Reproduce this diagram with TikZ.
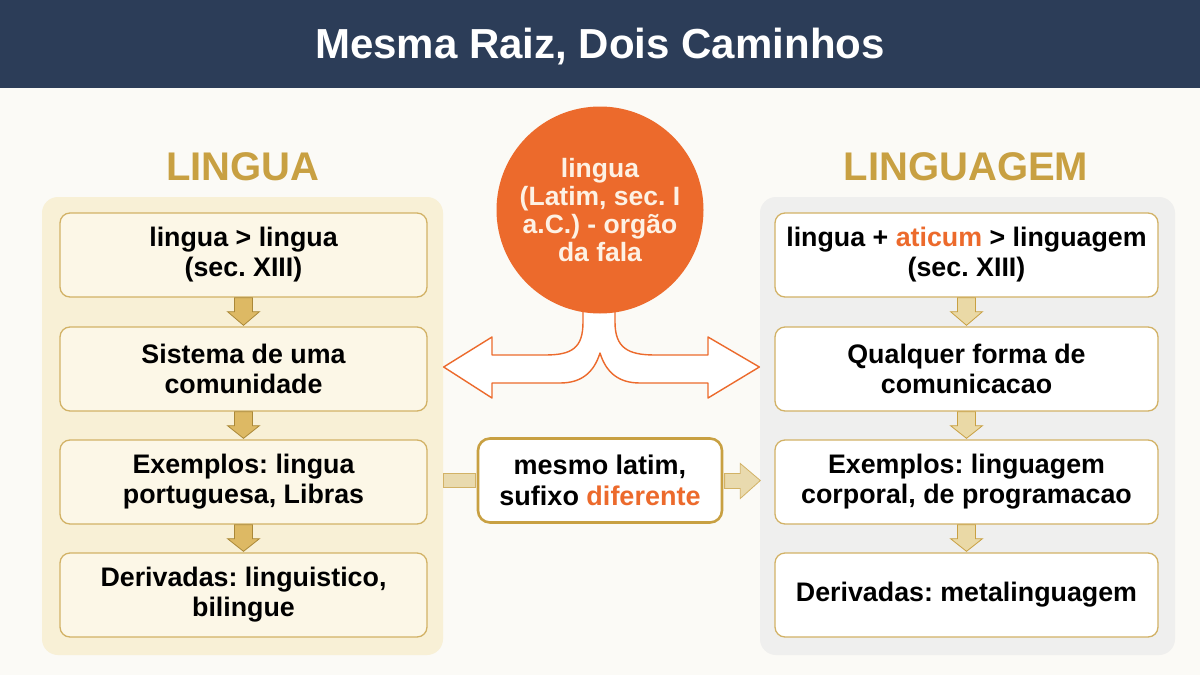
\documentclass[tikz,border=0pt]{standalone}
\usepackage{fontspec}
\setmainfont{Liberation Sans}
\usetikzlibrary{calc}
\frenchspacing
\definecolor{navy}{HTML}{2C3D58}
\definecolor{bgc}{HTML}{FBFAF6}
\definecolor{gold}{HTML}{C8A042}
\definecolor{goldline}{HTML}{D2B266}
\definecolor{lpanel}{HTML}{F8F0D6}
\definecolor{lbox}{HTML}{FCF7E7}
\definecolor{rpanel}{HTML}{EFEFEE}
\definecolor{orng}{HTML}{EC6A2C}
\definecolor{tan}{HTML}{E9DAAE}
\definecolor{darrfill}{HTML}{DDB964}
\definecolor{rarrfill}{HTML}{EAD9A6}
\definecolor{circtxt}{HTML}{FDF1E4}
\tikzset{
  boxbase/.style={draw=goldline, line width=1.3pt, rounded corners=10pt,
    minimum width=367pt, minimum height=84pt, align=center,
    font=\fontsize{26.8}{30}\selectfont\bfseries, text=black, inner sep=0pt},
  lstepbox/.style={boxbase, fill=lbox},
  rstepbox/.style={boxbase, fill=white, minimum width=383pt},
  heading/.style={font=\fontsize{40}{44}\selectfont\bfseries, text=gold},
  darrow/.style={draw=gold!85!black, line width=0.8pt, fill=darrfill},
  rdarrow/.style={draw=gold, line width=0.8pt, fill=rarrfill},
}
\newcommand\darr[3]{%
  \draw[#3] ($(#1.south)+(-9,0)$) -- ($(#1.south)+(-9,14)$) -- ($(#1.south)+(-16,14)$)
    -- ($(#2.north)+(0,-1)$) -- ($(#1.south)+(16,14)$) -- ($(#1.south)+(9,14)$)
    -- ($(#1.south)+(9,0)$) -- cycle;}
\begin{document}
\begin{tikzpicture}[x=1pt,y=-1pt]
\useasboundingbox (0,0) rectangle (1200,675);
\fill[bgc] (0,0) rectangle (1200,675);
% title bar
\fill[navy] (0,0) rectangle (1200,88);
\node[text=white, font=\fontsize{42}{46}\selectfont\bfseries] (title) at (600,47) {Mesma Raiz, Dois Caminhos};
% headings
\node[heading] (hl) at (243,167) {LINGUA};
\node[heading] (hr) at (966,167) {LINGUAGEM};
% panels
\fill[lpanel, rounded corners=16pt] (42,197) rectangle (443,655);
\coordinate (lpe) at (443,480);
\fill[rpanel, rounded corners=16pt] (760,197) rectangle (1175,655);
% left boxes
\node[lstepbox] (L1) at (243.5,255) {lingua > lingua\\(sec. XIII)};
\node[lstepbox] (L2) at (243.5,369) {Sistema de uma\\comunidade};
\node[lstepbox] (L3) at (243.5,482) {Exemplos: lingua\\portuguesa, Libras};
\node[lstepbox] (L4) at (243.5,595) {Derivadas: linguistico,\\bilingue};
% right boxes
\node[rstepbox] (R1) at (966.5,255) {lingua + \textcolor{orng}{aticum} > linguagem\\(sec. XIII)};
\node[rstepbox] (R2) at (966.5,369) {Qualquer forma de\\comunicacao};
\node[rstepbox] (R3) at (966.5,482) {Exemplos: linguagem\\corporal, de programacao};
\node[rstepbox] (R4) at (966.5,595) {Derivadas: metalinguagem};
% down arrows
\darr{L1}{L2}{darrow}
\darr{L2}{L3}{darrow}
\darr{L3}{L4}{darrow}
\darr{R1}{R2}{rdarrow}
\darr{R2}{R3}{rdarrow}
\darr{R3}{R4}{rdarrow}
% middle box
\node[draw=gold, line width=2.6pt, rounded corners=12pt, fill=white,
  minimum width=244pt, minimum height=84pt, align=center,
  font=\fontsize{27}{31}\selectfont\bfseries] (M) at (600,480.5)
  {mesmo latim,\\sufixo \textcolor{orng}{diferente}};
\draw[draw=goldline, line width=0.8pt, fill=tan] ($(lpe)+(0,-7)$) rectangle ($(M.west)+(-1.3,7)$);
\draw[draw=goldline, line width=0.8pt, fill=tan]
  ($(M.east)+(1.3,-7)$) -- ($(M.east)+(17,-7)$) -- ($(M.east)+(17,-17)$)
  -- ($(R3.west)+(-14,-1.5)$) -- ($(M.east)+(17,18)$) -- ($(M.east)+(17,8)$)
  -- ($(M.east)+(1.3,8)$) -- cycle;
% split arrow
\draw[draw=orng, line width=1.4pt, fill=white, line join=round]
  (583,300) -- (583,322) .. controls (583,348) and (572,355) .. (545,355)
  -- (492,355) -- (492,337) -- ($(L2.east)+(16,-2)$) -- (492,398) -- (492,383)
  -- (560,383) .. controls (582,383) and (594,372) .. (600,353)
  .. controls (606,372) and (618,383) .. (640,383)
  -- (708,383) -- (708,398) -- ($(R2.west)+(-15,-2)$) -- (708,337) -- (708,355)
  -- (655,355) .. controls (628,355) and (615,348) .. (615,322) -- (615,300);
% circle
\node[circle, fill=orng, minimum size=207pt, inner sep=0pt, align=center,
  text=circtxt, font=\fontsize{26.5}{28}\selectfont\bfseries] (C) at (600,210)
  {lingua\\(Latim, sec. I\\a.C.) - orgão\\da fala};
\end{tikzpicture}
\end{document}
